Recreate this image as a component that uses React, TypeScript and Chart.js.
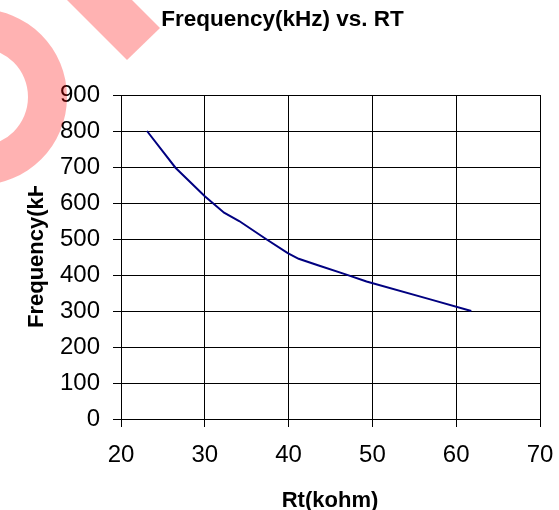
import React, { useEffect, useRef } from "react";
import { Chart, registerables } from "chart.js";

Chart.register(...registerables);

const rtValues = [23.1, 26.5, 30.0, 32.3, 34.1, 37.3, 39.9, 41.2, 43.5, 46.9, 49.3, 56.8, 61.8];
const freqValues = [800, 698, 619, 573, 550, 500, 461, 445, 427, 401, 382, 333, 300];
const chartTitle = "Frequency(kHz) vs. RT";
const xTitle = "Rt(kohm)";
const yTitle = "Frequency(kHz)";

const FONT = "'Liberation Sans', Arial, sans-serif";

const decorPlugin = {
  id: "decor",
  afterDraw(chart: any) {
    const ctx = chart.ctx as CanvasRenderingContext2D;
    ctx.save();
    ctx.fillStyle = "#000";
    // main title
    ctx.font = `bold 22.5px ${FONT}`;
    ctx.textAlign = "center";
    ctx.textBaseline = "alphabetic";
    ctx.fillText(chartTitle, 282.5, 26);
    // x title
    ctx.font = `bold 22px ${FONT}`;
    ctx.fillText(xTitle, 330, 507);
    // y title (clipped like the reference)
    ctx.save();
    ctx.beginPath();
    ctx.rect(0, 186, 70, 200);
    ctx.clip();
    ctx.translate(43, 328);
    ctx.rotate(-Math.PI / 2);
    ctx.textAlign = "left";
    ctx.fillText(yTitle, 0, 0);
    ctx.restore();
    // translucent red watermark shapes
    ctx.fillStyle = "rgba(255,0,0,0.3)";
    ctx.beginPath();
    ctx.arc(-21, 97, 88, 0, Math.PI * 2);
    ctx.arc(-21, 97, 49, 0, Math.PI * 2, true);
    ctx.fill("evenodd");
    ctx.beginPath();
    ctx.moveTo(67, 0);
    ctx.lineTo(132, 0);
    ctx.lineTo(160, 28);
    ctx.lineTo(127, 60);
    ctx.closePath();
    ctx.fill();
    ctx.restore();
  },
};

export default function App() {
  const canvasRef = useRef<HTMLCanvasElement | null>(null);

  useEffect(() => {
    if (!canvasRef.current) return;
    const chart = new Chart(canvasRef.current, {
      type: "scatter",
      data: {
        datasets: [
          {
            data: rtValues.map((x, i) => ({ x, y: freqValues[i] })),
            showLine: true,
            borderColor: "#000080",
            backgroundColor: "#000080",
            borderWidth: 2,
            pointRadius: 0,
            tension: 0,
          },
        ],
      },
      options: {
        animation: false,
        responsive: false,
        maintainAspectRatio: false,
        events: [],
        layout: { padding: { top: 95, right: 19, left: 0, bottom: 0 } },
        plugins: {
          legend: { display: false },
          title: { display: false },
          tooltip: { enabled: false },
        },
        scales: {
          x: {
            type: "linear",
            min: 20,
            max: 70,
            ticks: {
              stepSize: 10,
              color: "#000",
              padding: 14,
              font: { family: FONT, size: 24 },
            },
            grid: {
              color: "#000",
              lineWidth: 1,
              tickLength: 8,
              tickColor: "#000",
            },
            border: { color: "#000", width: 1 },
            afterFit(scale: any) {
              scale.height = 91;
              scale.paddingLeft = 0;
              scale.paddingRight = 0;
            },
          },
          y: {
            type: "linear",
            min: 0,
            max: 900,
            ticks: {
              stepSize: 100,
              color: "#000",
              padding: 13,
              font: { family: FONT, size: 24 },
            },
            grid: {
              color: "#000",
              lineWidth: 1,
              tickLength: 8,
              tickColor: "#000",
            },
            border: { color: "#000", width: 1 },
            afterFit(scale: any) {
              scale.width = 121;
              scale.paddingTop = 0;
              scale.paddingBottom = 0;
            },
          },
        },
      },
      plugins: [decorPlugin],
    });
    return () => chart.destroy();
  }, []);

  return (
    <div style={{ position: "fixed", left: 0, top: 0, width: 559, height: 510, background: "#fff" }}>
      <canvas ref={canvasRef} width={559} height={510} style={{ width: 559, height: 510 }} />
    </div>
  );
}
